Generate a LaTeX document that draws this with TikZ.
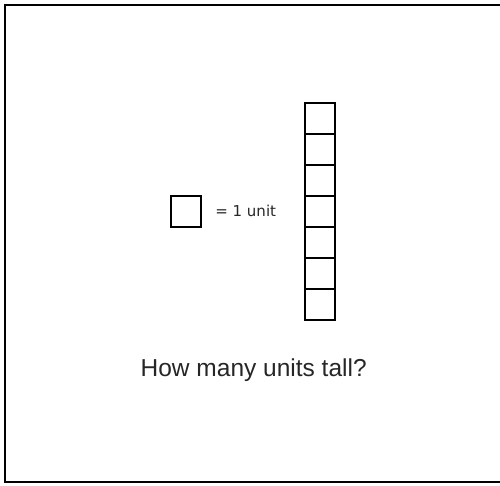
\documentclass[tikz,border=0pt]{standalone}
\usepackage{fontspec}
\setmainfont{Liberation Sans}
\newfontfamily\unitfont{DejaVu Sans}
\usetikzlibrary{positioning}

\begin{document}
\begin{tikzpicture}[
    x=1pt, y=-1pt,
    cell/.style={draw, line width=1.9pt, minimum width=30pt, minimum height=31pt, inner sep=0pt},
    unitlabel/.style={font=\unitfont\fontsize{15}{17}\selectfont, text=black!85, inner sep=0pt},
    question/.style={font=\fontsize{24.5}{28}\selectfont, text=black!85, inner sep=0pt}
]
\useasboundingbox (0,0) rectangle (500,485);
% frame, cut off on the right
\draw[line width=1.6pt] (510,4.8) -- (4.8,4.8) -- (4.8,482) -- (510,482);

% one unit
\node[cell] (unitsq) at (186.2,211.3) {};
\node[unitlabel, right=13pt of unitsq] (unittext) {= 1 unit};

% the column of seven units
\foreach \i in {0,...,6}
    \node[cell] (col\i) at (320.2,118.8+31*\i) {};

\node[question, anchor=base] (ask) at (253.7,376) {How many units tall?};
\end{tikzpicture}
\end{document}
